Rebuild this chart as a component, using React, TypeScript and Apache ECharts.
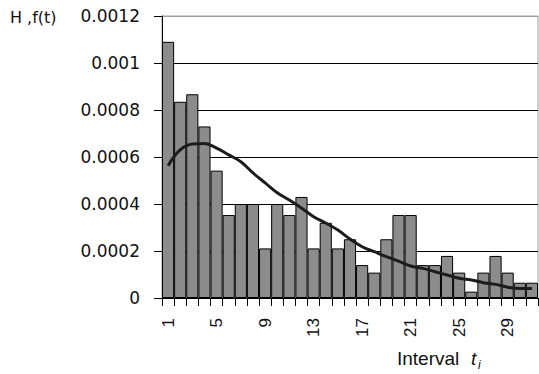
import React, { useEffect, useRef } from "react";
import * as echarts from "echarts";

const categories = ["1","2","3","4","5","6","7","8","9","10","11","12","13","14","15","16","17","18","19","20","21","22","23","24","25","26","27","28","29","30","31"];
const histogram = [0.00109, 0.000835, 0.000867, 0.00073, 0.000542, 0.000353, 0.0004, 0.0004, 0.000211, 0.0004, 0.000353, 0.00043, 0.000211, 0.00032, 0.000211, 0.00025, 0.00014, 0.000108, 0.00025, 0.000353, 0.000353, 0.00014, 0.00014, 0.000179, 0.000108, 0.000027, 0.000108, 0.000179, 0.000108, 0.000065, 0.000065];
const density = [0.000563, 0.00063, 0.000655, 0.000657, 0.000638, 0.000609, 0.00058, 0.000532, 0.00049, 0.000448, 0.000417, 0.000383, 0.000346, 0.000319, 0.000289, 0.000251, 0.000218, 0.000197, 0.000176, 0.000157, 0.000136, 0.000126, 0.000112, 0.000098, 0.000084, 0.000077, 0.000065, 0.000058, 0.000046, 0.00004, 0.00004];
const yTickLabels = ["0", "0.0002", "0.0004", "0.0006", "0.0008", "0.001", "0.0012"];

export default function App() {
  const ref = useRef<HTMLDivElement>(null);
  useEffect(() => {
    if (!ref.current) return;
    const chart = echarts.init(ref.current, null, { renderer: "svg" });
    chart.setOption({
      animation: false,
      backgroundColor: "#ffffff",
      grid: { left: 162, right: 1, top: 16, bottom: 76, show: true, borderColor: "#a0a0a0", borderWidth: 1 },
      xAxis: {
        type: "category",
        data: categories,
        boundaryGap: true,
        axisLine: { lineStyle: { color: "#000", width: 1 } },
        axisTick: { show: true, interval: 0, length: 8, lineStyle: { color: "#000" } },
        axisLabel: {
          interval: 3,
          rotate: 90,
          margin: 20,
          color: "#111",
          fontFamily: "Liberation Sans",
          fontSize: 17,
        },
        splitLine: { show: false },
      },
      yAxis: {
        type: "value",
        min: 0,
        max: 0.0012,
        interval: 0.0002,
        axisLine: { show: true, lineStyle: { color: "#000", width: 1 } },
        axisTick: { show: true, length: 8, lineStyle: { color: "#000" } },
        axisLabel: {
          margin: 22,
          color: "#111",
          fontFamily: "DejaVu Sans",
          fontSize: 17,
          formatter: (v: number) => yTickLabels[Math.round(v / 0.0002)] ?? "",
        },
        splitLine: {
          show: true,
          lineStyle: { color: ["#000", "#000", "#000", "#000", "#000", "#000", "#a0a0a0"], width: 1 },
        },
      },
      graphic: [
        {
          type: "text",
          x: 10,
          y: 17,
          style: { text: "H ,f(t)", fontFamily: "DejaVu Sans", fontSize: 16, fill: "#111", verticalAlign: "middle" },
        },
        {
          type: "text",
          x: 397,
          y: 358,
          style: { text: "Interval", fontFamily: "Liberation Sans", fontSize: 19, fill: "#111", verticalAlign: "middle" },
        },
        {
          type: "text",
          x: 471,
          y: 358,
          style: { text: "t", fontFamily: "Liberation Sans", fontSize: 19, fontStyle: "italic", fill: "#111", verticalAlign: "middle" },
        },
        {
          type: "text",
          x: 478,
          y: 365,
          style: { text: "i", fontFamily: "Liberation Sans", fontSize: 12, fontStyle: "italic", fill: "#111", verticalAlign: "middle" },
        },
      ],
      series: [
        {
          type: "bar",
          data: histogram,
          barCategoryGap: "0%",
          itemStyle: { color: "#8c8c8c", borderColor: "#000", borderWidth: 1 },
          z: 2,
        },
        {
          type: "line",
          data: density,
          smooth: 0.4,
          showSymbol: false,
          symbol: "none",
          lineStyle: { color: "#1c1c1c", width: 3 },
          z: 3,
        },
      ],
    });
    return () => chart.dispose();
  }, []);
  return (
    <div
      ref={ref}
      style={{ position: "absolute", left: 0, top: 0, width: 539, height: 374 }}
    />
  );
}
